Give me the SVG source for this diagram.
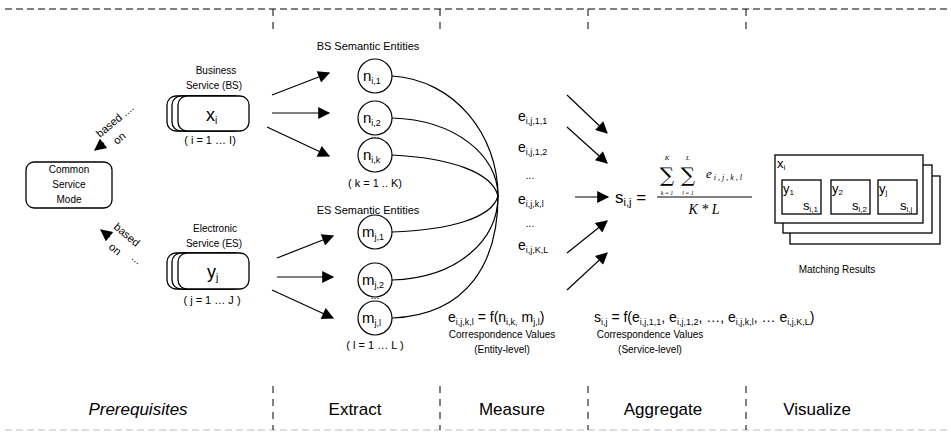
<svg xmlns="http://www.w3.org/2000/svg" width="951" height="433" viewBox="0 0 951 433">
<defs>
<marker id="ahb" viewBox="0 0 10 10" refX="9" refY="5" markerWidth="15" markerHeight="12" markerUnits="userSpaceOnUse" orient="auto"><path d="M0,0 L10,5 L0,10 z" fill="#000"/></marker>
</defs>
<style>
text,tspan{font-family:"Liberation Sans",Arial,sans-serif;fill:#000}
.sm{font-size:10px}
.md{font-size:11px}
.ev{font-size:14px}
.sub{font-size:9px}
.ph{font-size:17px}
.frm{font-family:"Liberation Serif","Times New Roman",serif;font-style:italic}
.dash{stroke:#000;stroke-width:1;stroke-dasharray:7,4;fill:none}
.dashg{stroke:#bbb;stroke-width:1.2;stroke-dasharray:7,4;fill:none}
.vd{stroke:#000;stroke-width:1;stroke-dasharray:7,6;fill:none}
.box{fill:#fff;stroke:#000;stroke-width:1.3}
.cir{fill:#fff;stroke:#000;stroke-width:1.2}
.ln{stroke:#000;stroke-width:1.2;fill:none}
.arr{stroke:#000;stroke-width:1.2;fill:none;marker-end:url(#ahb)}
</style>
<rect width="951" height="433" fill="#fff"/>
<g id="frame">
<line class="dash" x1="5" y1="9" x2="951" y2="9"/>
<line class="dashg" x1="5" y1="430" x2="951" y2="430"/>
<line class="vd" x1="273" y1="9" x2="273" y2="30"/>
<line class="vd" x1="440" y1="9" x2="440" y2="30"/>
<line class="vd" x1="588" y1="9" x2="588" y2="30"/>
<line class="vd" x1="746" y1="9" x2="746" y2="30"/>
<line class="vd" x1="273" y1="386" x2="273" y2="430"/>
<line class="vd" x1="440" y1="386" x2="440" y2="430"/>
<line class="vd" x1="588" y1="386" x2="588" y2="430"/>
<line class="vd" x1="746" y1="386" x2="746" y2="430"/>
<text class="ph" x="138" y="415" text-anchor="middle" font-style="italic">Prerequisites</text>
<text class="ph" x="355" y="415" text-anchor="middle">Extract</text>
<text class="ph" x="512" y="415" text-anchor="middle">Measure</text>
<text class="ph" x="663" y="415" text-anchor="middle">Aggregate</text>
<text class="ph" x="817" y="415" text-anchor="middle">Visualize</text>
</g>
<g id="common-service-model">
<rect class="box" x="26" y="162" width="86" height="46" rx="8"/>
<text class="sm" x="69" y="173" text-anchor="middle">Common</text>
<text class="sm" x="69" y="188" text-anchor="middle">Service</text>
<text class="sm" x="69" y="203" text-anchor="middle">Mode</text>
</g>
<g id="business-service">
<text class="sm" x="216" y="74" text-anchor="middle">Business</text>
<text class="sm" x="214" y="89" text-anchor="middle">Service (BS)</text>
<rect class="box" x="167" y="96" width="71" height="35" rx="9"/>
<rect class="box" x="172" y="96" width="72" height="35" rx="9"/>
<rect class="box" x="178" y="96" width="71" height="35" rx="9"/>
<text x="206" y="121" font-size="18">x<tspan font-size="10" dy="3">i</tspan></text>
<text class="md" x="210" y="144" text-anchor="middle">( i = 1 … I)</text>
</g>
<g id="electronic-service">
<text class="sm" x="215" y="232" text-anchor="middle">Electronic</text>
<text class="sm" x="214" y="247" text-anchor="middle">Service (ES)</text>
<rect class="box" x="167" y="253" width="71" height="36" rx="9"/>
<rect class="box" x="172" y="253" width="72" height="36" rx="9"/>
<rect class="box" x="178" y="253" width="71" height="36" rx="9"/>
<text x="207" y="278" font-size="18">y<tspan font-size="10" dy="3">j</tspan></text>
<text class="md" x="212" y="304" text-anchor="middle">( j = 1 … J )</text>
</g>
<g id="bs-entities">
<text class="md" x="368" y="50" text-anchor="middle">BS Semantic Entities</text>
<circle class="cir" cx="375" cy="76" r="17"/>
<text x="363" y="81" font-size="15">n<tspan class="sub" dy="3">i,1</tspan></text>
<circle class="cir" cx="375" cy="118" r="17"/>
<text x="363" y="123" font-size="15">n<tspan class="sub" dy="3">i,2</tspan></text>
<text class="sm" x="375" y="138" text-anchor="middle">...</text>
<circle class="cir" cx="375" cy="155" r="17"/>
<text x="363" y="160" font-size="15">n<tspan class="sub" dy="3">i,k</tspan></text>
<text class="md" x="375" y="187" text-anchor="middle">( k = 1 .. K)</text>
</g>
<g id="es-entities">
<text class="md" x="368" y="214" text-anchor="middle">ES Semantic Entities</text>
<circle class="cir" cx="375" cy="232" r="17"/>
<text x="362" y="237" font-size="15">m<tspan class="sub" dy="3">j,1</tspan></text>
<circle class="cir" cx="375" cy="280" r="17"/>
<text x="362" y="285" font-size="15">m<tspan class="sub" dy="3">j,2</tspan></text>
<text class="sm" x="375" y="299" text-anchor="middle">...</text>
<circle class="cir" cx="375" cy="318" r="17"/>
<text x="362" y="323" font-size="15">m<tspan class="sub" dy="3">j,l</tspan></text>
<text class="md" x="375" y="349" text-anchor="middle">( l = 1 … L )</text>
</g>
<g id="e-values">
<text class="ev" x="518" y="121">e<tspan class="sub" dy="3">i,j,1,1</tspan></text>
<text class="ev" x="518" y="152">e<tspan class="sub" dy="3">i,j,1,2</tspan></text>
<text class="sm" x="530" y="179" text-anchor="middle">...</text>
<text class="ev" x="518" y="204">e<tspan class="sub" dy="3">i,j,k,l</tspan></text>
<text class="sm" x="530" y="227" text-anchor="middle">...</text>
<text class="ev" x="518" y="250">e<tspan class="sub" dy="3">i,j,K,L</tspan></text>
</g>
<g id="aggregate-formula">
<text x="615" y="203" font-size="17">s<tspan font-size="11" dy="3">i,j</tspan><tspan dy="-3" font-size="17"> =</tspan></text>
<text x="667" y="182" font-size="20" text-anchor="middle" style="font-family:'DejaVu Serif',serif">∑</text>
<text x="688" y="182" font-size="20" text-anchor="middle" style="font-family:'DejaVu Serif',serif">∑</text>
<text class="frm" x="667" y="160" font-size="7" text-anchor="middle">K</text>
<text class="frm" x="688" y="160" font-size="7" text-anchor="middle">L</text>
<text class="frm" x="667" y="195" font-size="6" text-anchor="middle">k = 1</text>
<text class="frm" x="688" y="195" font-size="6" text-anchor="middle">l = 1</text>
<text class="frm" x="706" y="178" font-size="13">e<tspan class="frm" font-size="8" dy="2"> i , j , k , l</tspan></text>
<line x1="657" y1="197" x2="752" y2="197" stroke="#000" stroke-width="1"/>
<text class="frm" x="704" y="214" font-size="14" text-anchor="middle">K  *  L</text>
</g>
<g id="matching-results">
<rect class="box" x="790" y="176" width="150" height="68"/>
<rect class="box" x="783" y="165" width="149" height="68"/>
<rect class="box" x="775" y="155" width="148" height="68"/>
<text x="777" y="168" font-size="13">x<tspan font-size="8" dy="2">i</tspan></text>
<rect class="box" x="782" y="180" width="39" height="34"/>
<rect class="box" x="831" y="180" width="39" height="34"/>
<rect class="box" x="878" y="180" width="39" height="34"/>
<text x="783" y="193" font-size="13">y<tspan font-size="8" dy="2">1</tspan></text>
<text x="832" y="193" font-size="13">y<tspan font-size="8" dy="2">2</tspan></text>
<text x="879" y="193" font-size="13">y<tspan font-size="8" dy="2">j</tspan></text>
<text x="803" y="210" font-size="13">s<tspan font-size="8" dy="2">i,1</tspan></text>
<text x="852" y="210" font-size="13">s<tspan font-size="8" dy="2">i,2</tspan></text>
<text x="900" y="210" font-size="13">s<tspan font-size="8" dy="2">i,j</tspan></text>
<text class="sm" x="837" y="273" text-anchor="middle">Matching Results</text>
</g>
<g id="entity-level-formula">
<text class="ev" x="448" y="322">e<tspan class="sub" dy="3">i,j,k,l</tspan><tspan dy="-3"> = f(n</tspan><tspan class="sub" dy="3">i,k,</tspan><tspan dy="-3"> m</tspan><tspan class="sub" dy="3">j,l</tspan><tspan dy="-3">)</tspan></text>
<text class="sm" x="502" y="338" text-anchor="middle">Correspondence Values</text>
<text class="sm" x="502" y="353" text-anchor="middle">(Entity-level)</text>
</g>
<g id="service-level-formula">
<text class="ev" x="594" y="322">s<tspan class="sub" dy="3">i,j</tspan><tspan dy="-3"> = f(e</tspan><tspan class="sub" dy="3">i,j,1,1</tspan><tspan dy="-3">, e</tspan><tspan class="sub" dy="3">i,j,1,2</tspan><tspan dy="-3">, …, e</tspan><tspan class="sub" dy="3">i,j,k,l</tspan><tspan dy="-3">, … e</tspan><tspan class="sub" dy="3">i,j,K,L</tspan><tspan dy="-3">)</tspan></text>
<text class="sm" x="650" y="338" text-anchor="middle">Correspondence Values</text>
<text class="sm" x="650" y="353" text-anchor="middle">(Service-level)</text>
</g>
<g id="connectors">
<path class="arr" d="M104,143 L95,150"/>
<text class="md" transform="translate(100,138) rotate(-40)">based ....</text>
<text class="md" transform="translate(117,145) rotate(-40)">on</text>
<path class="arr" d="M110,237 L101,230"/>
<text class="md" transform="translate(113,228) rotate(40)">based</text>
<text class="md" transform="translate(108,248) rotate(40)">on</text>
<text class="md" transform="translate(131,259) rotate(40)">...</text>
<path class="arr" d="M272,95 L329,73"/>
<path class="arr" d="M272,113 L329,113"/>
<path class="arr" d="M267,127 L329,156"/>
<path class="arr" d="M277,258 L333,236"/>
<path class="arr" d="M277,277 L333,277"/>
<path class="arr" d="M272,290 L333,318"/>
<path class="ln" d="M392,76 C455,80 498,135 498,196"/>
<path class="ln" d="M392,118 C455,120 498,155 498,196"/>
<path class="ln" d="M392,155 C450,158 492,172 498,196"/>
<path class="ln" d="M392,232 C450,230 492,218 498,196"/>
<path class="ln" d="M392,280 C458,278 498,240 498,196"/>
<path class="ln" d="M392,318 C468,315 498,262 498,196"/>
<path class="arr" d="M567,95 L607,133"/>
<path class="arr" d="M567,127 L607,163"/>
<path class="arr" d="M575,197 L608,197"/>
<path class="arr" d="M567,253 L607,221"/>
<path class="arr" d="M567,290 L607,253"/>
</g>
</svg>
